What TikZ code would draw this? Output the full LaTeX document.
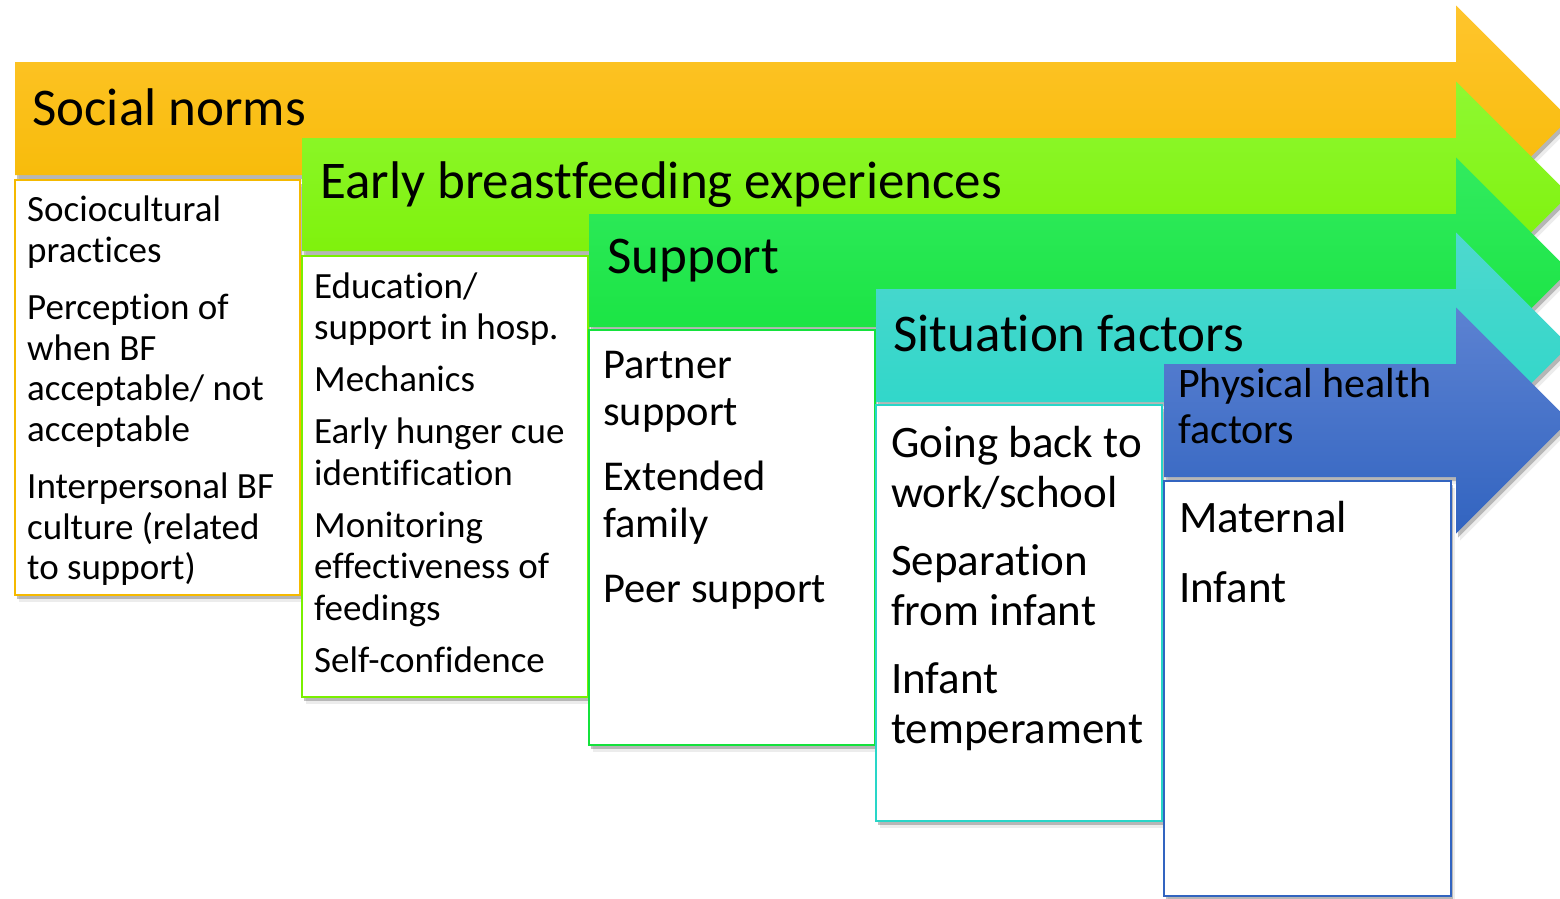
\documentclass[tikz,border=0pt]{standalone}
\usepackage{fontspec}
\setmainfont{Carlito}[Ligatures=CommonOff]
\usepackage{xcolor}
\usepackage{tikz}
\usetikzlibrary{shadows}

\definecolor{normsTop}{RGB}{255,197,45}
\definecolor{normsBot}{RGB}{245,185,0}
\definecolor{earlyTop}{RGB}{143,248,50}
\definecolor{earlyBot}{RGB}{122,240,0}
\definecolor{suppTop}{RGB}{50,235,95}
\definecolor{suppBot}{RGB}{20,226,60}
\definecolor{sitTop}{RGB}{78,216,206}
\definecolor{sitBot}{RGB}{40,214,200}
\definecolor{physTop}{RGB}{92,130,210}
\definecolor{physBot}{RGB}{50,100,192}

\tikzset{
    bandshadow/.style={
        drop shadow={shadow xshift=4pt, shadow yshift=-7pt, opacity=.15, fill=black!50},
        drop shadow={shadow xshift=2pt, shadow yshift=-4pt, opacity=.4, fill=black!60}
    },
    listbox/.style={line width=2pt, fill=white, bandshadow},
    headtext/.style={anchor=base west, inner sep=0pt, font=\fontsize{53}{60}\selectfont},
    listtext/.style={anchor=north west, inner sep=0pt, align=left}
}

\begin{document}
\begin{tikzpicture}[x=1pt, y=-1pt]
                \useasboundingbox (0,0) rectangle (1560,898);

                % social norms
                \path[
                    top color=normsTop,
                    bottom color=normsBot,
                    bandshadow
                ] (15,62) -- (1456,62) -- (1456,5.5) -- (1569,118.5) -- (1456,231.5) -- (1456,175) -- (15,175) -- cycle;
                \node[headtext] (normsHead) at (32,125) {Social norms};

                \draw[
                    listbox,
                    draw=normsBot
                ] (15,180) rectangle (300,595);
                \node[listtext, font=\fontsize{37}{40.5}\selectfont] (normsList) at (27,193.4)
                    {\strut Sociocultural\\practices\\[17pt]Perception of\\when BF\\acceptable/ not\\acceptable\\[17pt]Interpersonal BF\\culture (related\\to support)};

                % early breastfeeding experiences
                \path[
                    top color=earlyTop,
                    bottom color=earlyBot,
                    bandshadow
                ] (302,138) -- (1456,138) -- (1456,81.5) -- (1569,194.5) -- (1456,307.5) -- (1456,251) -- (302,251) -- cycle;
                \node[headtext] (earlyHead) at (320,198) {Early breastfeeding experiences};

                \draw[
                    listbox,
                    draw=earlyBot
                ] (302,256) rectangle (588,697);
                \node[listtext, font=\fontsize{37}{41.5}\selectfont] (earlyList) at (314,269)
                    {\strut Education/\\support in hosp.\\[10.5pt]Mechanics\\[10.5pt]Early hunger cue\\identification\\[10.5pt]Monitoring\\effectiveness of\\feedings\\[10.5pt]Self-confidence};

                % support
                \path[
                    top color=suppTop,
                    bottom color=suppBot,
                    bandshadow
                ] (589,214) -- (1456,214) -- (1456,157.5) -- (1569,270.5) -- (1456,383.5) -- (1456,327) -- (589,327) -- cycle;
                \node[headtext] (suppHead) at (607,273) {Support};

                \draw[
                    listbox,
                    draw=suppBot
                ] (589,330) rectangle (875,745);
                \node[listtext, font=\fontsize{42.5}{47}\selectfont] (suppList) at (603,345.1)
                    {\strut Partner\\support\\[18pt]Extended\\family\\[18pt]Peer support};

                % situation factors
                \path[
                    top color=sitTop,
                    bottom color=sitBot,
                    bandshadow
                ] (876,289) -- (1456,289) -- (1456,232.5) -- (1569,345.5) -- (1456,458.5) -- (1456,402) -- (876,402) -- cycle;
                \node[headtext] (sitHead) at (893,351) {Situation factors};

                \draw[
                    listbox,
                    draw=sitBot
                ] (876,405) rectangle (1162,821);
                \node[listtext, font=\fontsize{45}{50}\selectfont] (sitList) at (891,422)
                    {\strut Going back to\\work/school\\[18pt]Separation\\from infant\\[18pt]Infant\\temperament};

                % physical health factors
                \path[
                    top color=physTop,
                    bottom color=physBot,
                    bandshadow
                ] (1164,364) -- (1456,364) -- (1456,307.5) -- (1569,420.5) -- (1456,533.5) -- (1456,477) -- (1164,477) -- cycle;
                \node[listtext, font=\fontsize{42}{46}\selectfont] (physHead) at (1178,364.8)
                    {\strut Physical health\\factors};

                \draw[
                    listbox,
                    draw=physBot
                ] (1164,481) rectangle (1451,896);
                \node[listtext, font=\fontsize{45}{50}\selectfont] (physList) at (1179,497)
                    {\strut Maternal\\[20pt]Infant};

            \end{tikzpicture}
\end{document}
